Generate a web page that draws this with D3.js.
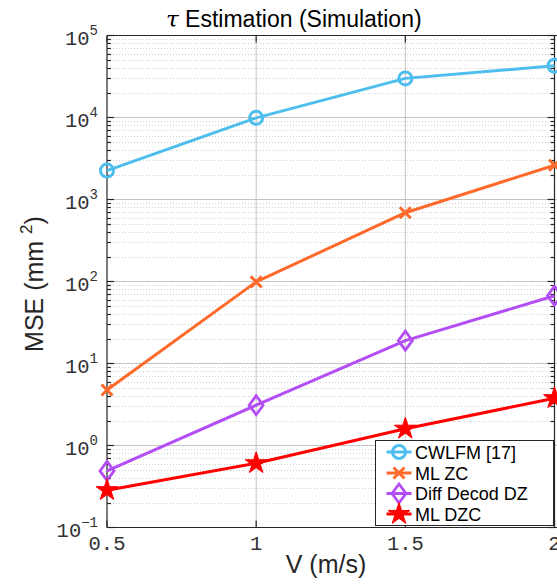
<!DOCTYPE html>
<html>
<head>
<meta charset="utf-8">
<script src="https://cdn.jsdelivr.net/npm/d3@7"></script>
<style>
  html, body { margin: 0; padding: 0; background: #fff; }
  svg { display: block; }
</style>
</head>
<body>
<svg id="chart" width="557" height="585"></svg>
<script>
const speeds = [0.5, 1, 1.5, 2];
const cwlfm = [2250, 9900, 30000, 42800];
const mlZC = [4.75, 99, 690, 2620];
const diffDZ = [0.49, 3.1, 19.0, 67];
const mlDZC = [0.285, 0.607, 1.6, 3.77];
const seriesNames = ["CWLFM [17]", "ML ZC", "Diff Decod DZ", "ML DZC"];
const seriesColors = ["#4DBEEE", "#FF6A2B", "#B34DF5", "#FF0000"];
const seriesMarkers = ["circle", "x", "diamond", "star"];
const xTicks = [0.5, 1, 1.5, 2];
const xTickLabels = ["0.5", "1", "1.5", "2"];
const yExps = [-1, 0, 1, 2, 3, 4, 5];

const series = [cwlfm, mlZC, diffDZ, mlDZC].map((vals, i) => ({
  name: seriesNames[i], color: seriesColors[i], marker: seriesMarkers[i],
  values: vals.map((v, j) => ({x: speeds[j], y: v}))
}));

const svg = d3.select("#chart");
const L = 107, R = 554.5, T = 35.5, B = 527.5;
const x = d3.scaleLinear().domain([0.5, 2]).range([L, R]);
const y = d3.scaleLog().domain([0.1, 1e5]).range([B, T]);

const axisColor = "#262626";

// minor grid
const minorVals = [];
yExps.slice(0, -1).forEach(e => { for (let k = 2; k <= 9; k++) minorVals.push(k * Math.pow(10, e)); });
svg.append("g").selectAll("line").data(minorVals).join("line")
  .attr("x1", L).attr("x2", 557)
  .attr("y1", d => Math.round(y(d)) + 0.5).attr("y2", d => Math.round(y(d)) + 0.5)
  .attr("stroke", "#cfcfcf").attr("stroke-width", 1).attr("stroke-dasharray", "1,2");

// major grid
svg.append("g").selectAll("line").data(yExps.map(e => Math.pow(10, e))).join("line")
  .attr("x1", L).attr("x2", 557)
  .attr("y1", d => y(d)).attr("y2", d => y(d))
  .attr("stroke", "#c4c4c4").attr("stroke-width", 1);
svg.append("g").selectAll("line").data(xTicks.slice(1, 3)).join("line")
  .attr("x1", d => x(d)).attr("x2", d => x(d))
  .attr("y1", T).attr("y2", B)
  .attr("stroke", "#c4c4c4").attr("stroke-width", 1);

// axes frame
const frame = svg.append("g").attr("stroke", axisColor).attr("stroke-width", 1.2);
frame.append("line").attr("x1", L).attr("x2", 557).attr("y1", T).attr("y2", T);
frame.append("line").attr("x1", L).attr("x2", 557).attr("y1", B).attr("y2", B);
frame.append("line").attr("x1", L).attr("x2", L).attr("y1", T).attr("y2", B);
frame.append("line").attr("x1", R).attr("x2", R).attr("y1", T).attr("y2", B);

// y ticks (major & minor) inside, both sides
[[L, 1], [R, -1]].forEach(([px, dir]) => {
  frame.selectAll(null).data(yExps.map(e => Math.pow(10, e))).join("line")
    .attr("x1", px).attr("x2", px + dir * 7).attr("y1", d => y(d)).attr("y2", d => y(d));
  frame.selectAll(null).data(minorVals).join("line")
    .attr("x1", px).attr("x2", px + dir * 4)
    .attr("y1", d => Math.round(y(d)) + 0.5).attr("y2", d => Math.round(y(d)) + 0.5);
});
// x ticks inside top & bottom
[[B, -1], [T, 1]].forEach(([py, dir]) => {
  frame.selectAll(null).data(xTicks).join("line")
    .attr("x1", d => x(d)).attr("x2", d => x(d)).attr("y1", py).attr("y2", py + dir * 7);
});

// y tick labels
const mono = "'Liberation Mono', 'DejaVu Sans Mono', monospace";
const yl = svg.append("g").attr("font-family", mono).attr("fill", "#333");
yExps.forEach(e => {
  const t = yl.append("text").attr("x", 98).attr("y", y(Math.pow(10, e)) + 9.5)
    .attr("text-anchor", "end").attr("font-size", 20.5);
  t.append("tspan").text("10");
  t.append("tspan").attr("font-size", 14).attr("dy", -10).text(e < 0 ? "\u2212" + Math.abs(e) : String(e));
});

// x tick labels
svg.append("g").attr("font-family", mono).attr("fill", "#333")
  .selectAll("text").data(xTicks).join("text")
  .attr("x", d => x(d)).attr("y", 550).attr("text-anchor", "middle").attr("font-size", 20.5)
  .text((d, i) => xTickLabels[i]);

// title
const sans = "'Liberation Sans', Arial, Helvetica, sans-serif";
const title = svg.append("text").attr("x", 166).attr("y", 27).attr("text-anchor", "start")
  .attr("font-family", sans).attr("font-size", 23).attr("fill", "#000");
title.append("tspan").attr("font-style", "italic").attr("font-family", "'DejaVu Serif', serif").text("\u03C4");
title.append("tspan").text(" Estimation (Simulation)");

// axis labels
svg.append("text").attr("x", 326).attr("y", 573).attr("text-anchor", "middle")
  .attr("font-family", sans).attr("font-size", 25).attr("fill", "#262626").text("V (m/s)");
const ylab = svg.append("text").attr("transform", "translate(43,284) rotate(-90)")
  .attr("text-anchor", "middle").attr("font-family", sans).attr("font-size", 25).attr("fill", "#262626");
ylab.append("tspan").text("MSE (mm ");
ylab.append("tspan").attr("font-size", 17).attr("dy", -11).text("2");
ylab.append("tspan").attr("dy", 11).text(")");

// markers
function starPath(ro) {
  const ri = ro * 0.382;
  const pts = [];
  for (let k = 0; k < 10; k++) {
    const a = -Math.PI / 2 + k * Math.PI / 5;
    const r = k % 2 === 0 ? ro : ri;
    pts.push([r * Math.cos(a), r * Math.sin(a)]);
  }
  return "M" + pts.map(p => p.join(",")).join("L") + "Z";
}
function drawMarker(g, type, color) {
  if (type === "circle") {
    g.append("circle").attr("r", 6.5).attr("fill", "none").attr("stroke", color).attr("stroke-width", 3);
  } else if (type === "x") {
    g.append("path").attr("d", "M-5.5,-5.5L5.5,5.5M-5.5,5.5L5.5,-5.5")
      .attr("stroke", color).attr("stroke-width", 3).attr("fill", "none");
  } else if (type === "diamond") {
    g.append("path").attr("d", "M0,-9.5L7,0L0,9.5L-7,0Z")
      .attr("fill", "none").attr("stroke", color).attr("stroke-width", 2.8);
  } else if (type === "star") {
    g.append("path").attr("d", starPath(11.5)).attr("fill", color).attr("stroke", color).attr("stroke-width", 1);
  }
}

const line = d3.line().x(d => x(d.x)).y(d => y(d.y));
series.forEach(s => {
  const g = svg.append("g");
  g.append("path").datum(s.values).attr("d", line)
    .attr("fill", "none").attr("stroke", s.color).attr("stroke-width", 3).attr("stroke-linejoin", "round");
  s.values.forEach(v => {
    const mg = g.append("g").attr("transform", `translate(${x(v.x)},${y(v.y)})`);
    drawMarker(mg, s.marker, s.color);
  });
});

// legend
const lg = svg.append("g");
lg.append("rect").attr("x", 375.5).attr("y", 440.5).attr("width", 178).attr("height", 85)
  .attr("fill", "#fff").attr("stroke", axisColor).attr("stroke-width", 1);
const rowY = [452, 473, 493.5, 514];
series.forEach((s, i) => {
  const ry = rowY[i];
  lg.append("line").attr("x1", 386.5).attr("x2", 411.5).attr("y1", ry).attr("y2", ry)
    .attr("stroke", s.color).attr("stroke-width", 3);
  const mg = lg.append("g").attr("transform", `translate(399,${ry})`);
  drawMarker(mg, s.marker, s.color);
  lg.append("text").attr("x", 415).attr("y", ry + 6.5).attr("font-family", sans)
    .attr("font-size", 18).attr("fill", "#000").text(s.name);
});
</script>
</body>
</html>
